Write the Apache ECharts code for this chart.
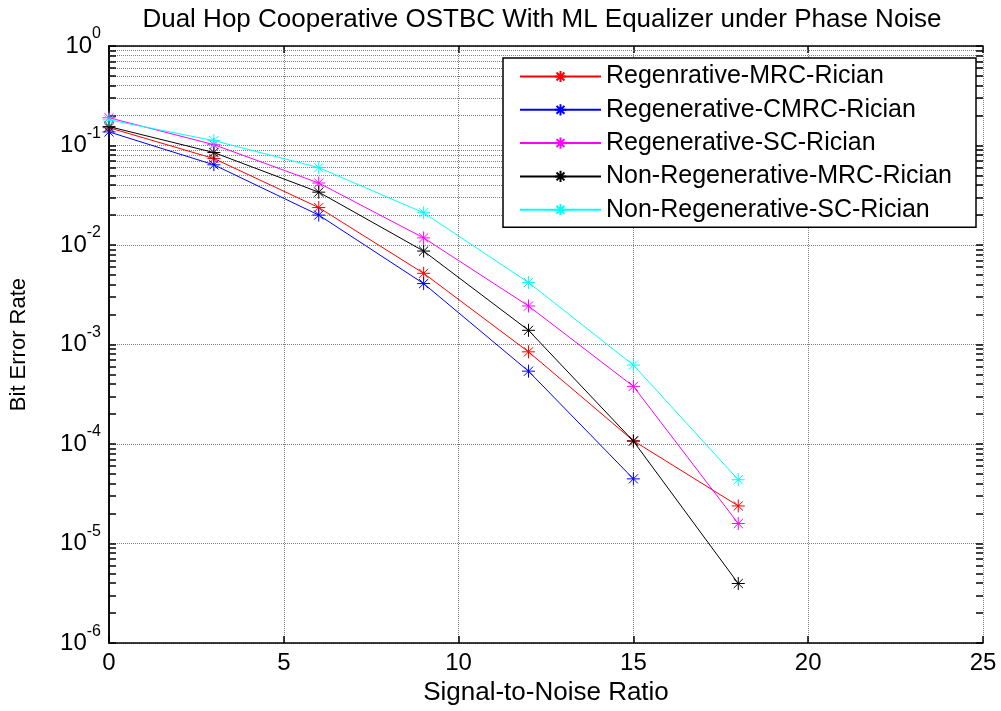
<!DOCTYPE html>
<html>
<head>
<meta charset="utf-8">
<script src="https://cdn.jsdelivr.net/npm/echarts@6/dist/echarts.min.js"></script>
<style>html,body{margin:0;padding:0;background:#fff}#c{width:1001px;height:711px}</style>
</head>
<body>
<div id="c"></div>
<script>
const snr = [0, 3, 6, 9, 12, 15, 18];
const seriesNames = ['Regenrative-MRC-Rician', 'Regenerative-CMRC-Rician', 'Regenerative-SC-Rician', 'Non-Regenerative-MRC-Rician', 'Non-Regenerative-SC-Rician'];
const regenMRC = [0.151, 0.074, 0.0238, 0.0052, 0.000845, 0.000108, 2.39e-5];
const regenCMRC = [0.137, 0.064, 0.020, 0.0041, 0.00054, 4.47e-5];
const regenSC = [0.19, 0.102, 0.042, 0.0118, 0.00244, 0.00038, 1.59e-5];
const nonRegenMRC = [0.155, 0.085, 0.034, 0.0087, 0.00139, 0.000107, 3.97e-6];
const nonRegenSC = [0.181, 0.112, 0.060, 0.0211, 0.0042, 0.000622, 4.38e-5];
const colors = ['#ff0000', '#0000ff', '#ff00ff', '#000000', '#00ffff'];
const xTicks = [0, 5, 10, 15, 20, 25];
const yDecades = [-6, -5, -4, -3, -2, -1, 0];

const FONT = 'Liberation Sans, Arial, sans-serif';
const asterisk = 'path://M0,-10L0,10M-10,0L10,0M-7.07,-7.07L7.07,7.07M-7.07,7.07L7.07,-7.07';

// minor gridline values (2..9 x each decade)
const minorVals = [];
for (let d = -6; d < 0; d++) {
  for (let k = 2; k <= 9; k++) minorVals.push(k * Math.pow(10, d));
}
const majorVals = yDecades.map(d => Math.pow(10, d));

const allSeries = [regenMRC, regenCMRC, regenSC, nonRegenMRC, nonRegenSC];
const gridStyle = { color: '#808080', width: 1, type: [1, 1] };

const series = allSeries.map((vals, i) => ({
  name: seriesNames[i],
  type: 'line',
  data: vals.map((v, j) => [snr[j], v]),
  symbol: asterisk,
  symbolSize: 13,
  showSymbol: true,
  lineStyle: { color: colors[i], width: 1 },
  itemStyle: { color: colors[i], borderColor: colors[i], borderWidth: 1 },
  emphasis: { disabled: true },
  z: 10 + i,
  animation: false
}));

const tickLen = 0.2;
const minorGrid = minorVals.map(v => ({ yAxis: v }));
const tickSegs = [];
minorVals.concat(majorVals).forEach(v => {
  tickSegs.push([{ coord: [0, v] }, { coord: [tickLen, v] }]);
  tickSegs.push([{ coord: [25 - tickLen, v] }, { coord: [25, v] }]);
});
series.push({
  type: 'line', data: [], silent: true, z: 2,
  markLine: {
    silent: true, symbol: 'none', label: { show: false }, animation: false,
    lineStyle: gridStyle, data: minorGrid
  }
});
series.push({
  type: 'line', data: [], silent: true, z: 3,
  markLine: {
    silent: true, symbol: 'none', label: { show: false }, animation: false,
    lineStyle: { color: '#000', width: 1.5, type: 'solid' }, data: tickSegs
  }
});

const chart = echarts.init(document.getElementById('c'), null, { renderer: 'canvas' });
chart.setOption({
  animation: false,
  backgroundColor: '#fff',
  title: {
    text: 'Dual Hop Cooperative OSTBC With ML Equalizer under Phase Noise',
    left: 537, top: 2, textAlign: 'center',
    textStyle: { fontFamily: FONT, fontSize: 26, fontWeight: 'normal', color: '#000' }
  },
  grid: { left: 106, right: 18, top: 46, bottom: 66, containLabel: false },
  legend: {
    orient: 'vertical', left: 503, top: 58,
    itemWidth: 81, itemHeight: 14, itemGap: 8.3,
    padding: [6, 13, 5, 16],
    borderColor: '#000', borderWidth: 1.5, backgroundColor: '#fff',
    textStyle: { fontFamily: FONT, fontSize: 25, color: '#000', lineHeight: 25, width: 357 },
    data: seriesNames,
    z: 20
  },
  xAxis: [{
    type: 'value', min: 0, max: 25, interval: 5,
    name: 'Signal-to-Noise Ratio', nameLocation: 'middle', nameGap: 35,
    nameTextStyle: { fontFamily: FONT, fontSize: 26, color: '#000' },
    axisLine: { lineStyle: { color: '#000', width: 1.5 } },
    axisTick: { inside: true, length: 7, lineStyle: { color: '#000', width: 1.5 } },
    axisLabel: { fontFamily: FONT, fontSize: 24, color: '#000', margin: 8 },
    splitLine: { show: true, lineStyle: gridStyle }
  }, {
    type: 'value', min: 0, max: 25, interval: 5, position: 'top',
    axisLine: { lineStyle: { color: '#000', width: 1.5 } },
    axisTick: { inside: true, length: 7, lineStyle: { color: '#000', width: 1.5 } },
    axisLabel: { show: false }, splitLine: { show: false }
  }],
  yAxis: [{
    type: 'log', logBase: 10, min: 1e-6, max: 1, splitNumber: 6,
    name: 'Bit Error Rate', nameLocation: 'middle', nameGap: 79, nameRotate: 90,
    nameTextStyle: { fontFamily: FONT, fontSize: 22, color: '#000' },
    axisLine: { show: true, lineStyle: { color: '#000', width: 1.5 } },
    axisTick: { show: false },
    axisLabel: {
      margin: 8,
      formatter: v => '{b|10}{s|' + Math.round(Math.log10(v)) + '}',
      rich: {
        b: { fontFamily: FONT, fontSize: 24, color: '#000' },
        s: { fontFamily: FONT, fontSize: 16, color: '#000', padding: [0, 0, 24, 0] }
      }
    },
    splitLine: { show: true, lineStyle: gridStyle }
  }, {
    type: 'log', logBase: 10, min: 1e-6, max: 1, splitNumber: 6, position: 'right',
    axisLine: { show: true, lineStyle: { color: '#000', width: 1.5 } },
    axisTick: { show: false }, axisLabel: { show: false }, splitLine: { show: false }
  }],
  series: series
});
</script>
</body>
</html>
